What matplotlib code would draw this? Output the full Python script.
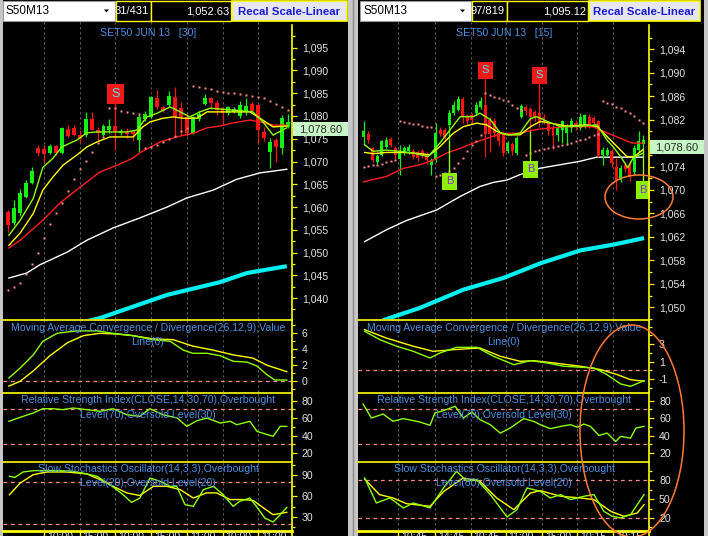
import matplotlib
matplotlib.use('Agg')
import matplotlib.pyplot as plt
from matplotlib.patches import Rectangle, Ellipse, Polygon
from matplotlib.lines import Line2D

plt.rcParams['font.family'] = ['Liberation Sans', 'DejaVu Sans']

# ======================= DATA =======================
# ---- left panel: SET50 JUN 13 [30] ----
L_open  = [1059.0,1056.5,1058.7,1062.2,1065.2,1072.9,1072.7,1071.9,1073.4,1071.9,1077.1,1077.3,1075.8,1075.8,1079.3,1076.9,
           1075.8,1076.9,1077.7,1076.2,1076.8,1076.6,1074.7,1079.3,1079.8,1083.9,1081.9,1082.4,1084.2,1081.7,1079.7,1076.2,
           1079.3,1082.6,1083.9,1082.9,1081.7,1080.6,1080.9,1080.0,1081.2,1082.6,1082.4,1076.5,1072.1,1074.7,1072.9,1077.6]
L_high  = [1059.3,1061.5,1064.0,1066.0,1068.8,1073.7,1073.6,1073.8,1073.6,1077.5,1078.0,1078.0,1076.9,1080.8,1080.8,1077.6,
           1078.2,1079.3,1083.1,1077.2,1077.4,1077.0,1080.5,1081.0,1084.4,1085.7,1082.3,1085.5,1086.4,1083.0,1080.5,1080.0,
           1081.2,1084.8,1084.2,1083.5,1082.0,1082.2,1082.0,1083.2,1084.0,1083.0,1082.6,1077.5,1075.1,1075.1,1080.2,1080.4]
L_low   = [1054.6,1056.0,1058.0,1062.0,1065.0,1071.3,1069.7,1071.7,1071.4,1071.7,1075.3,1075.6,1074.0,1075.4,1076.9,1074.3,
           1075.5,1076.3,1072.5,1075.8,1075.2,1074.6,1072.1,1078.8,1079.5,1081.5,1080.8,1082.0,1075.8,1075.8,1075.7,1076.0,
           1079.0,1082.4,1081.5,1080.2,1078.0,1080.3,1080.6,1079.6,1080.3,1080.8,1074.0,1074.6,1068.5,1070.0,1071.6,1077.4]
L_close = [1056.0,1059.8,1063.1,1065.3,1068.0,1071.9,1071.6,1073.4,1071.8,1077.3,1075.6,1075.8,1074.9,1079.3,1076.9,1076.2,
           1077.8,1077.8,1076.8,1076.8,1076.0,1076.0,1079.7,1080.4,1084.2,1081.9,1081.2,1084.4,1079.8,1079.7,1076.2,1079.7,
           1080.4,1083.9,1082.9,1081.3,1080.6,1081.9,1081.6,1082.4,1082.2,1081.2,1076.9,1075.1,1074.2,1073.2,1079.5,1078.6]
L_sar   = [1041.7,1042.4,1043.3,1045.3,1047.4,1049.9,1053.2,1056.3,1058.7,1060.9,1063.5,1066.1,1068.3,1070.1,1072.1,1074.1,
           1075.4,1081.7,1081.7,1081.1,1080.9,1080.6,1080.4,1073.0,1073.2,1073.7,1074.3,1075.0,1075.6,1076.7,1077.4,1086.6,
           1086.4,1086.1,1085.9,1085.5,1085.2,1085.0,1085.0,1084.8,1084.6,1084.4,1084.1,1083.9,1083.3,1082.6,1082.0,1081.3]
L_fast_x = [0.1,2.0,4.2,5.8,7.5,9.0,11.5,13.2,14.9,17.1,19.9,21.6,23.3,25.0,27.2,28.9,30.5,32.2,33.9,37.8,41.1,42.8,44.5,46.8]
L_fast   = [1053.8,1057.1,1061.9,1068.7,1070.7,1073.2,1074.7,1076.3,1076.5,1076.5,1076.5,1076.9,1079.8,1080.6,1082.0,1080.9,
            1079.8,1080.9,1081.7,1081.3,1080.9,1078.7,1075.8,1077.4]
L_mid_x  = [0.1,2.0,4.2,5.8,7.5,9.2,11.5,13.2,14.9,17.1,21.0,22.6,23.8,26.0,27.7,29.4,31.7,33.4,36.8,40.6,42.3,44.5,46.8]
L_mid    = [1051.6,1054.3,1058.6,1063.7,1066.6,1069.2,1071.4,1073.2,1074.3,1075.4,1075.4,1077.6,1078.7,1079.5,1079.8,1079.5,
            1079.5,1080.9,1080.9,1080.9,1079.5,1077.6,1077.8]
L_slow_x = [0.1,2.0,5.8,8.7,12.1,15.4,18.3,21.0,22.1,25.5,28.9,31.1,33.4,35.6,37.8,40.6,42.3,44.5,46.8]
L_slow   = [1051.0,1052.7,1057.1,1060.9,1064.4,1067.7,1069.2,1070.8,1071.9,1074.3,1075.6,1076.2,1077.4,1077.8,1078.5,1079.1,
            1078.7,1078.0,1078.0]
L_white_x = [0.1,3.1,5.3,9.9,13.2,17.6,22.1,26.7,30.0,34.4,38.4,42.3,46.8]
L_white   = [1044.4,1045.5,1047.3,1050.1,1052.7,1055.4,1057.6,1060.0,1062.0,1063.7,1066.1,1067.5,1068.3]
L_cyan_x  = [13.5,15.4,26.7,35.6,40.1,46.8]
L_cyan    = [1035.0,1035.6,1040.7,1043.5,1045.5,1047.0]
L_macd_x  = [0.1,2.0,4.2,5.8,8.2,11.5,14.9,17.6,21.0,24.3,27.2,29.4,31.0,33.4,35.6,37.8,40.1,41.8,43.5,44.8,46.8]
L_macd    = [0.41,1.66,3.3,5.0,6.0,6.3,6.3,6.0,5.7,5.2,5.0,3.9,3.5,3.5,3.2,2.5,2.4,1.9,0.8,0.16,0.16]
L_sig_x   = [0.1,2.0,4.2,7.0,9.9,12.6,15.4,18.3,21.0,24.3,27.7,31.0,34.4,37.8,41.1,43.5,46.8]
L_sig     = [-0.6,0.0,1.3,3.2,4.8,5.7,6.0,5.9,5.7,5.3,5.2,4.4,3.9,3.3,2.9,2.0,1.2]
L_rsi_x   = [0.1,2.0,4.2,5.8,7.5,9.2,10.9,13.2,15.4,17.6,19.9,22.1,23.8,26.0,28.4,30.0,31.7,33.4,35.6,37.3,38.4,40.6,41.8,
             44.5,45.7,46.8]
L_rsi     = [56.3,60.9,65.9,70.8,70.8,69.7,71.6,69.7,67.8,70.8,63.9,62.0,70.8,63.9,60.1,50.5,57.0,60.1,54.3,56.3,52.4,56.3,
             44.7,39.0,50.5,50.5]
L_k_x     = [0.2,1.1,2.5,4.2,6.5,8.7,10.9,13.2,14.9,17.1,19.3,20.7,22.1,23.8,25.5,27.2,28.3,29.7,31.1,32.8,34.5,36.1,37.8,
             38.9,40.6,41.7,43.1,44.5,45.7,46.8]
L_k       = [88.6,87.0,94.8,96.7,97.0,96.7,95.8,92.0,88.6,76.5,62.0,51.0,57.0,86.0,81.4,74.2,74.2,47.6,45.2,69.3,74.2,62.0,
             45.2,52.5,57.2,45.2,28.4,22.6,33.2,43.7]
L_d_x     = [0.2,2.0,4.2,6.5,9.8,13.2,15.4,17.6,19.9,22.1,24.4,26.6,28.9,31.1,33.3,35.0,37.3,39.5,41.2,42.9,44.5,46.8]
L_d       = [62.0,78.9,90.9,94.8,94.8,92.0,83.9,74.2,64.6,60.8,74.2,74.2,69.3,57.2,64.6,64.6,55.0,55.0,53.5,42.9,33.2,36.6]
L_signal_idx   = [18]
L_signal_price = [1084.9]
L_signal_type  = ['S']
L_time_labels  = ['10:00', '15:00', '10:00', '15:00', '11:00', '10:00', '11:00']
L_time_pos     = [6, 12, 18, 24, 30, 36, 42]

# ---- right panel: SET50 JUN 13 [15] ----
R_open  = [1079.0,1079.5,1077.1,1074.7,1076.0,1077.4,1078.7,1077.1,1075.3,1076.4,1076.6,1076.6,1076.4,1076.6,1076.0,1074.3,
           1075.1,1080.3,1080.3,1081.1,1083.1,1083.7,1085.6,1082.5,1082.8,1083.1,1084.2,1084.5,1082.0,1081.7,1079.7,1079.7,
           1076.6,1077.8,1076.3,1082.5,1084.2,1083.8,1083.3,1083.1,1082.5,1081.4,1080.6,1079.4,1080.3,1079.7,1080.5,1081.4,
           1080.6,1080.8,1082.5,1082.2,1081.8,1076.0,1076.0,1076.6,1074.0,1071.7,1074.3,1074.3,1073.0,1076.8,1077.9]
R_high  = [1081.7,1080.0,1077.4,1076.2,1078.6,1079.0,1079.1,1077.5,1077.7,1077.5,1077.8,1077.0,1076.8,1077.0,1076.4,1075.4,
           1081.4,1080.8,1080.6,1083.6,1085.2,1086.0,1085.9,1083.0,1083.2,1085.0,1085.9,1089.0,1082.5,1082.2,1080.3,1080.0,
           1078.4,1078.2,1079.2,1084.6,1084.5,1084.2,1083.6,1088.4,1082.9,1081.8,1081.0,1081.0,1082.0,1081.2,1082.3,1082.0,
           1083.2,1083.0,1083.0,1082.6,1082.0,1077.4,1077.4,1077.0,1075.4,1074.3,1074.8,1075.0,1077.6,1080.0,1079.4]
R_low   = [1077.7,1078.0,1074.8,1074.4,1075.8,1077.2,1077.3,1075.3,1072.6,1076.0,1076.2,1075.3,1075.0,1075.5,1074.5,1072.6,
           1074.8,1079.2,1078.7,1078.5,1082.8,1083.4,1081.4,1081.2,1081.5,1082.8,1083.8,1075.7,1076.5,1079.0,1077.5,1075.8,
           1076.3,1076.0,1076.0,1082.2,1082.8,1080.0,1081.8,1080.8,1081.2,1079.4,1077.0,1078.3,1078.0,1077.7,1079.9,1080.3,
           1080.3,1080.5,1080.6,1081.0,1075.6,1074.3,1075.7,1074.0,1070.0,1071.4,1073.0,1071.5,1072.6,1076.5,1077.3]
R_close = [1080.0,1078.5,1075.1,1075.8,1078.3,1078.5,1077.7,1076.0,1076.6,1077.1,1077.4,1075.7,1075.4,1075.8,1075.1,1075.1,
           1079.7,1079.6,1079.1,1083.1,1084.5,1085.6,1082.5,1081.7,1082.0,1084.5,1085.1,1079.6,1079.6,1079.7,1078.3,1076.3,
           1078.0,1076.6,1078.8,1084.3,1083.4,1082.5,1082.2,1081.4,1081.7,1080.0,1079.2,1080.5,1081.7,1080.8,1081.7,1080.8,
           1082.5,1082.8,1081.1,1081.4,1076.0,1076.8,1076.8,1074.6,1071.7,1073.8,1073.6,1072.3,1077.2,1078.3,1078.6]
R_sar   = [1073.9,1074.1,1074.2,1074.3,1074.5,1074.7,1074.9,1075.1,1081.8,1081.6,1081.4,1081.3,1081.2,1080.9,1080.8,1080.7,
           1072.4,1072.6,1072.9,1073.3,1073.7,1074.6,1075.5,1076.6,1077.7,1078.3,1079.4,1086.5,1086.2,1085.9,1085.7,1085.4,
           1085.1,1084.5,1083.9,1083.7,1076.0,1076.3,1076.6,1076.8,1077.0,1077.2,1077.4,1077.5,1077.7,1077.9,1078.1,1078.3,
           1078.5,1078.7,1079.0,1079.4,1079.6,1085.2,1084.9,1084.7,1084.2,1083.9,1083.5,1083.1,1082.6,1082.0,1081.5]
R_fast_x = [0.2,2.1,5.0,8.0,11.0,14.3,16.9,19.2,21.4,24.3,25.8,28.1,30.3,32.5,34.7,37.0,38.4,40.7,43.7,48.1,51.8,54.0,
            55.3,57.0,58.6,59.8,62.0]
R_fast   = [1077.7,1076.6,1076.8,1076.6,1076.3,1075.7,1078.0,1080.3,1082.5,1082.5,1083.1,1082.0,1079.7,1079.4,1079.7,1082.2,
            1082.5,1081.7,1080.8,1080.9,1081.1,1078.5,1077.4,1075.7,1073.8,1075.5,1076.3]
R_mid_x  = [0.2,2.1,5.0,8.8,12.5,14.7,16.9,19.9,22.1,25.1,27.3,29.5,31.8,34.7,37.0,39.2,42.2,45.1,49.6,51.8,54.8,58.4,
            60.0,62.0]
R_mid    = [1076.4,1076.2,1076.4,1076.4,1076.2,1076.0,1077.4,1079.7,1080.8,1081.4,1081.1,1080.0,1079.4,1079.4,1080.8,1081.7,
            1081.3,1080.9,1081.1,1080.8,1078.5,1075.7,1075.7,1076.9]
R_slow_x = [0.0,5.0,8.8,12.5,15.4,18.4,21.4,24.3,27.3,30.3,34.6,39.0,45.0,50.9,53.5,57.0,59.5,62.0]
R_slow   = [1071.4,1072.3,1073.7,1074.3,1075.1,1076.3,1077.1,1078.0,1078.8,1079.6,1079.7,1080.4,1080.8,1080.8,1079.9,1078.8,
            1078.0,1078.0]
R_white_x = [0.2,5.0,9.5,16.2,21.4,25.8,28.8,31.8,34.6,39.0,43.5,48.0,51.7,62.0]
R_white   = [1061.2,1063.2,1064.8,1066.6,1068.9,1070.6,1071.3,1071.7,1072.6,1073.7,1074.3,1074.9,1075.6,1075.6]
R_cyan_x  = [3.4,4.7,12.5,22.1,31.0,39.2,48.1,55.5,62.2]
R_cyan    = [1047.4,1047.9,1049.9,1053.0,1055.0,1057.5,1059.7,1060.7,1061.8]
R_macd_x  = [0.2,3.6,7.3,11.0,14.7,16.9,20.6,25.1,28.8,33.3,37.0,40.7,44.4,48.1,51.1,54.0,57.0,59.2,62.2]
R_macd    = [4.48,3.52,2.77,2.19,1.43,2.0,2.65,2.65,1.62,0.66,1.12,0.86,0.48,0.37,0.29,-0.48,-1.54,-1.81,-1.17]
R_sig_x   = [0.2,5.0,11.0,15.4,19.9,25.8,30.3,34.7,37.7,42.2,48.1,52.6,56.3,59.2,62.2]
R_sig     = [4.67,3.71,2.77,2.19,2.38,2.57,1.62,1.05,1.12,0.86,0.48,0.1,-0.48,-1.05,-1.23]
R_rsi_x   = [-0.15,1.7,4.3,6.5,8.8,12.5,14.7,15.8,17.7,20.3,22.1,24.0,25.8,28.1,30.3,32.5,35.5,37.7,39.2,41.4,43.7,45.9,
             47.4,48.8,50.3,52.2,54.0,55.9,57.0,59.2,60.4,62.2]
R_rsi     = [76.2,60.1,64.7,56.3,59.4,55.5,51.7,65.9,68.6,73.6,60.1,67.0,58.2,52.4,42.8,48.6,59.4,56.3,52.4,47.8,50.5,52.4,
             49.4,53.2,50.5,40.1,42.8,33.2,39.0,37.0,48.6,50.5]
R_k_x     = [0.2,2.8,5.8,8.8,11.0,14.7,17.7,20.6,22.9,25.1,28.1,30.3,31.8,34.0,36.2,39.2,41.4,43.7,45.9,48.8,51.1,53.3,
             55.1,57.0,59.2,62.2]
R_k       = [83.7,43.9,51.9,36.0,43.9,36.0,67.8,94.3,78.4,81.0,57.2,36.0,21.6,33.3,67.8,62.5,51.9,57.2,49.2,54.5,57.2,30.6,
             22.7,20.0,25.3,57.2]
R_d_x     = [0.2,3.5,6.5,9.5,14.7,17.8,22.1,25.8,29.5,33.3,37.0,39.2,43.7,48.1,51.1,54.8,57.7,60.7,62.2]
R_d       = [82.0,57.2,51.9,42.8,38.6,62.5,83.7,78.4,51.9,33.3,59.8,63.5,54.5,51.9,49.2,30.6,22.7,28.0,41.3]
R_signal_idx   = [27, 39, 19, 37, 62]
R_signal_price = [1090.4, 1089.6, 1071.5, 1073.5, 1070.0]
R_signal_type  = ['S', 'S', 'B', 'B', 'B']
R_time_labels  = ['10:45', '14:45', '10:45', '11:00', '15:00', '10:15', '10:15']
R_time_pos     = [7.6, 15.9, 23.7, 31.5, 39.5, 47.3, 55.3]

# toolbar texts
L_toolbar = ['S50M13', '31/431', '1,052.63', 'Recal Scale-Linear']
R_toolbar = ['S50M13', '97/819', '1,095.12', 'Recal Scale-Linear']
L_title = 'SET50 JUN 13   [30]'
R_title = 'SET50 JUN 13   [15]'
MACD_LBL = ['Moving Average Convergence / Divergence(26,12,9),Value', 'Line(0)']
RSI_LBL = ['Relative Strength Index(CLOSE,14,30,70),Overbought', 'Level(70),Oversold Level(30)']
L_STO_LBL = ['Slow Stochastics Oscillator(14,3,3),Overbought', 'Level(20),Oversold Level(20)']
R_STO_LBL = ['Slow Stochastics Oscillator(14,3,3),Overbought', 'Level(80),Oversold Level(20)']

# ======================= LAYOUT / STYLE =======================
W, H = 708, 536
fig = plt.figure(figsize=(W / 100, H / 100), dpi=100, facecolor='#c6c6c6')

YEL = '#ffff00'
LIME = '#8cff00'
GREEN = '#14f014'
RED = '#ff1414'
PINK = '#ff8c8c'
BLUE_TXT = '#4a8fe2'
TICK_TXT = '#e2e2e2'


def frect(x0, y0, x1, y1, **kw):
    r = Rectangle((x0 / W, 1 - y1 / H), (x1 - x0) / W, (y1 - y0) / H, transform=fig.transFigure, **kw)
    fig.add_artist(r)
    return r


def fline(xs, ys, **kw):
    fig.add_artist(Line2D([x / W for x in xs], [1 - y / H for y in ys], transform=fig.transFigure, **kw))


def ftext(x, y, s, **kw):
    return fig.text(x / W, 1 - y / H, s, **kw)


def draw_panel(cfg):
    x0, x1, axx = cfg['x0'], cfg['x1'], cfg['axx']
    frect(x0, 0, x1, H, facecolor='black', edgecolor='none', zorder=-2)
    panes = [(22, 319), (320, 392), (393, 461), (462, 530)]
    axes = []
    for (y0, y1) in panes:
        ax = fig.add_axes([x0 / W, 1 - y1 / H, (axx - x0) / W, (y1 - y0) / H])
        ax.set_facecolor('black')
        for s in ax.spines.values():
            s.set_visible(False)
        ax.set_xlim(*cfg['xlim'])
        ax.set_xticks([])
        ax.yaxis.tick_right()
        ax.tick_params(axis='y', which='major', colors=YEL, labelcolor=TICK_TXT, length=3.6, width=0.9,
                       labelsize=7.6, pad=3.6)
        ax.tick_params(axis='y', which='minor', colors=YEL, length=2.2, width=0.9)
        for g in cfg['time_pos']:
            ax.axvline(g, color='#5e5e5e', ls=(0, (2, 2.5)), lw=0.8, zorder=0.5)
        axes.append(ax)
    axp, axm, axr, axs = axes

    # ---- price pane ----
    n = len(cfg['open'])
    last = cfg['close'][-1]
    axp.set_ylim(*cfg['pylim'])
    axp.plot(cfg['cyan_x'], cfg['cyan'], color='#00f0f0', lw=3.0, zorder=2, solid_capstyle='butt')
    axp.plot(cfg['white_x'], cfg['white'], color='white', lw=1.0, zorder=2)
    for k in range(n):
        o, h, l, c = cfg['open'][k], cfg['high'][k], cfg['low'][k], cfg['close'][k]
        col = GREEN if c >= o else RED
        axp.vlines(k, l, h, color=col, lw=0.9, zorder=3)
        lo, hi = min(o, c), max(o, c)
        axp.add_patch(Rectangle((k - 0.33, lo), 0.66, max(hi - lo, 0.2), facecolor=col, edgecolor='none', zorder=3))
    axp.plot(cfg['slow_x'], cfg['slow'], color='#ff1e1e', lw=1.0, zorder=4)
    axp.plot(cfg['mid_x'], cfg['mid'], color=YEL, lw=1.0, zorder=4)
    axp.plot(cfg['fast_x'], cfg['fast'], color=LIME, lw=1.0, zorder=4)
    axp.plot(range(n), cfg['sar'], ls='none', marker='s', ms=2.0, color=PINK, mec='none', zorder=4)
    for k, p, t in zip(cfg['sig_idx'], cfg['sig_price'], cfg['sig_type']):
        if t == 'S':
            axp.vlines(k, cfg['high'][k], p, color=RED, lw=1.0, zorder=4)
            axp.text(k, p, 'S', ha='center', va='center', color='#4ee6e6', fontsize=cfg['sigfs'], zorder=6,
                     bbox=dict(boxstyle='square,pad=0.32', fc='#f01a1a', ec='none'))
        else:
            axp.vlines(k, p, cfg['low'][k], color=LIME, lw=1.0, zorder=4)
            axp.text(k, p, 'B', ha='center', va='center', color='#8a2be2', fontsize=cfg['sigfs'], zorder=6,
                     bbox=dict(boxstyle='square,pad=0.32', fc='#8cf000', ec='none'))
    axp.set_yticks(cfg['pticks'])
    # the tick label hidden behind the last-price box is left blank
    axp.set_yticklabels(['' if abs(v - last) < 1.0 else f'{v:,.0f}' for v in cfg['pticks']])
    axp.set_yticks(cfg['pminor'], minor=True)

    # ---- MACD ----
    axm.set_ylim(*cfg['mylim'])
    axm.axhline(0, color=PINK, ls=(0, (3, 3)), lw=0.9, zorder=1)
    axm.plot(cfg['sig_x'], cfg['sig'], color=YEL, lw=1.0, zorder=3)
    axm.plot(cfg['macd_x'], cfg['macd'], color=LIME, lw=1.0, zorder=3)
    axm.set_yticks(cfg['mticks'])
    axm.set_yticklabels([f'{v:g}' for v in cfg['mticks']])
    axm.set_yticks(cfg['mminor'], minor=True)

    # ---- RSI ----
    axr.set_ylim(10.7, 88.85)
    for lv in (70, 30):
        axr.axhline(lv, color=PINK, ls=(0, (3, 3)), lw=0.9, zorder=1)
    axr.plot(cfg['rsi_x'], cfg['rsi'], color=LIME, lw=1.0, zorder=3)
    axr.set_yticks([20, 40, 60, 80])
    axr.set_yticklabels(['20', '40', '60', '80'])
    axr.set_yticks([30, 50, 70], minor=True)

    # ---- Stochastics ----
    axs.set_ylim(*cfg['sylim'])
    for lv in (80, 20):
        axs.axhline(lv, color=PINK, ls=(0, (3, 3)), lw=0.9, zorder=1)
    axs.plot(cfg['d_x'], cfg['d'], color=YEL, lw=1.0, zorder=3)
    axs.plot(cfg['k_x'], cfg['k'], color=LIME, lw=1.0, zorder=3)
    axs.set_yticks(cfg['sticks'])
    axs.set_yticklabels([f'{v:g}' for v in cfg['sticks']])
    axs.set_yticks(cfg['sminor'], minor=True)

    # ---- frame lines ----
    fline([axx, axx], [25, H], color=YEL, lw=1.2, zorder=5)
    for yy in (319.5, 392.5, 461.5):
        fline([x0, axx], [yy, yy], color=YEL, lw=1.2, zorder=5)
    fline([x0, axx], [530.5, 530.5], color=YEL, lw=2.0, zorder=5)

    # time labels (partly below the bottom edge, as in the screenshot)
    for g, lab in zip(cfg['time_pos'], cfg['time_labels']):
        gx = axs.transData.transform((g, 0))[0]
        fline([gx, gx], [531, H], color=YEL, lw=1.0, zorder=5)
        ftext(gx + 3, 531.5, lab, color=TICK_TXT, fontsize=7.6, ha='left', va='top', zorder=5)

    # titles / pane labels
    cx = cfg['cx']
    ftext(cx, 33, cfg['title'], color=BLUE_TXT, fontsize=7.6, ha='center', va='center', zorder=5)
    for lines, (ya, yb) in ((MACD_LBL, (328, 342)), (RSI_LBL, (400, 415)), (cfg['stolbl'], (469, 483))):
        ftext(cx, ya, lines[0], color=BLUE_TXT, fontsize=7.6, ha='center', va='center', zorder=5)
        ftext(cx, yb, lines[1], color=BLUE_TXT, fontsize=7.6, ha='center', va='center', zorder=5)

    # last price label
    yd = axp.transData.transform((0, last))[1]
    ytop = H - yd
    frect(axx + 1, ytop, x1, ytop + 14, facecolor='#c6f5c6', edgecolor='none', zorder=6)
    ftext((axx + 1 + x1) / 2, ytop + 7.5, f'{last:,.2f}', color='#2a2a2a', fontsize=8, ha='center', va='center',
          zorder=7)

    # toolbar
    tb = cfg['toolbar']
    bx = cfg['tbx']
    frect(bx[0], 1, bx[1], 21, facecolor='white', edgecolor='#9a9a9a', lw=0.8, zorder=6)
    ftext(bx[0] + 3, 11.5, tb[0], color='black', fontsize=8.5, ha='left', va='center', zorder=7)
    fig.add_artist(Polygon([[(bx[1] - 11) / W, 1 - 9.5 / H], [(bx[1] - 6) / W, 1 - 9.5 / H],
                            [(bx[1] - 8.5) / W, 1 - 12.5 / H]], closed=True, transform=fig.transFigure,
                           fc='black', ec='none', zorder=7))
    frect(bx[1] + 1, 1, bx[2], 21, facecolor='black', edgecolor=YEL, lw=1.0, zorder=6)
    ftext(bx[2] - 2, 11.5, tb[1], color='white', fontsize=8, ha='right', va='center', zorder=7)
    frect(bx[2], 1, bx[3], 21, facecolor='black', edgecolor=YEL, lw=1.0, zorder=6)
    ftext(bx[3] - 2, 11.5, tb[2], color='white', fontsize=8, ha='right', va='center', zorder=7)
    frect(bx[3] + 1, 1, bx[4], 21, facecolor='#e6e6ee', edgecolor=YEL, lw=1.2, zorder=6)
    ftext((bx[3] + 1 + bx[4]) / 2, 12, tb[3], color='#1a1ad6', fontsize=8.2, fontweight='bold', ha='center',
          va='center', zorder=7)


left_cfg = dict(x0=3, x1=348, axx=292, xlim=(-0.89, 47.68), cx=148,
                open=L_open, high=L_high, low=L_low, close=L_close, sar=L_sar,
                fast_x=L_fast_x, fast=L_fast, mid_x=L_mid_x, mid=L_mid, slow_x=L_slow_x, slow=L_slow,
                white_x=L_white_x, white=L_white, cyan_x=L_cyan_x, cyan=L_cyan,
                macd_x=L_macd_x, macd=L_macd, sig_x=L_sig_x, sig=L_sig, rsi_x=L_rsi_x, rsi=L_rsi,
                k_x=L_k_x, k=L_k, d_x=L_d_x, d=L_d,
                sig_idx=L_signal_idx, sig_price=L_signal_price, sig_type=L_signal_type, sigfs=9,
                time_pos=L_time_pos, time_labels=L_time_labels, title=L_title, stolbl=L_STO_LBL,
                pylim=(1035.4, 1100.65), pticks=list(range(1040, 1096, 5)),
                pminor=[v + 2.5 for v in range(1035, 1096, 5)],
                mylim=(-1.34, 7.66), mticks=[0, 2, 4, 6], mminor=[-1, 1, 3, 5, 7],
                sylim=(11.1, 109.2), sticks=[30, 60, 90], sminor=[15, 45, 75, 105],
                toolbar=L_toolbar, tbx=[3, 115, 151, 231, 347])

right_cfg = dict(x0=358, x1=704, axx=649, xlim=(-1.27, 63.3), cx=504,
                 open=R_open, high=R_high, low=R_low, close=R_close, sar=R_sar,
                 fast_x=R_fast_x, fast=R_fast, mid_x=R_mid_x, mid=R_mid, slow_x=R_slow_x, slow=R_slow,
                 white_x=R_white_x, white=R_white, cyan_x=R_cyan_x, cyan=R_cyan,
                 macd_x=R_macd_x, macd=R_macd, sig_x=R_sig_x, sig=R_sig, rsi_x=R_rsi_x, rsi=R_rsi,
                 k_x=R_k_x, k=R_k, d_x=R_d_x, d=R_d,
                 sig_idx=R_signal_idx, sig_price=R_signal_price, sig_type=R_signal_type, sigfs=8,
                 time_pos=R_time_pos, time_labels=R_time_labels, title=R_title, stolbl=R_STO_LBL,
                 pylim=(1048.05, 1098.65), pticks=list(range(1050, 1095, 4)),
                 pminor=[v + 2 for v in range(1046, 1095, 4)],
                 mylim=(-2.46, 5.77), mticks=[-1, 1, 3], mminor=[-2, 0, 2, 4, 5],
                 sylim=(0.9, 109.1), sticks=[20, 50, 80], sminor=[5, 35, 65, 95],
                 toolbar=R_toolbar, tbx=[360, 471, 507, 588, 700])

draw_panel(left_cfg)
draw_panel(right_cfg)

# separator between panels
fline([352.5, 352.5], [0, H], color='#8a8a8a', lw=1.0, zorder=5)

# orange annotation ellipses
fig.add_artist(Ellipse((639 / W, 1 - 197 / H), 68 / W, 44 / H, transform=fig.transFigure, fill=False,
                       ec='#ff7a30', lw=1.1, zorder=10))
fig.add_artist(Ellipse((632 / W, 1 - 431 / H), 104 / W, 212 / H, transform=fig.transFigure, fill=False,
                       ec='#ff7a30', lw=1.1, zorder=10))

fig.savefig('out.png', dpi=100, facecolor=fig.get_facecolor())
